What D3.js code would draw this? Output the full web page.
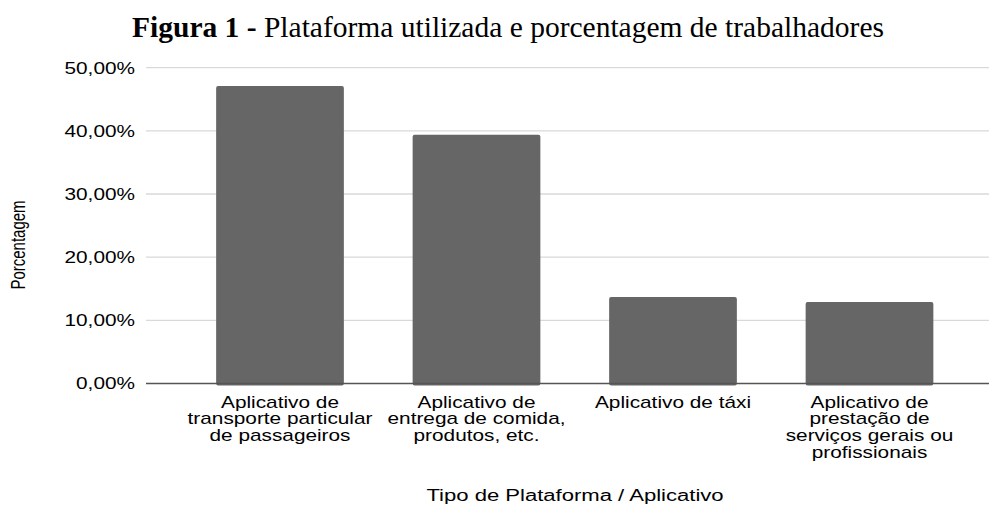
<!DOCTYPE html>
<html>
<head>
<meta charset="utf-8">
<script src="https://cdn.jsdelivr.net/npm/d3@7"></script>
<style>
  body { margin: 0; background: #fff; }
  svg { display: block; }
</style>
</head>
<body>
<svg id="chart" width="990" height="505"></svg>
<script>
var categories = [
    ["Aplicativo de", "transporte particular", "de passageiros"],
    ["Aplicativo de", "entrega de comida,", "produtos, etc."],
    ["Aplicativo de táxi"],
    ["Aplicativo de", "prestação de", "serviços gerais ou", "profissionais"]
];
var values = [47.1, 39.4, 13.7, 12.9];
var yTicks = [0, 10, 20, 30, 40, 50];

var svg = d3.select("#chart");
var sx = 1.3; // text in the picture is stretched wide

var x = d3.scaleBand()
    .domain(d3.range(categories.length))
    .range([181.75, 967.75])
    .paddingInner(0.35)
    .paddingOuter(0.175);

var y = d3.scaleLinear().domain([0, 50]).range([383.5, 67.7]);

function wideText(g, tx, ty, anchor, s) {
    return g.append("text")
        .attr("transform", "translate(" + tx + "," + ty + ") scale(" + (s || sx) + ",1)")
        .attr("text-anchor", anchor)
        .style("font-family", "'Liberation Sans', Arial, sans-serif")
        .style("font-size", "16px")
        .style("fill", "#000");
}

// grid lines
svg.append("g")
    .selectAll("line.grid")
    .data(yTicks.filter(function (d) { return d > 0; }))
    .enter()
    .append("line")
    .attr("x1", 146).attr("x2", 989)
    .attr("y1", function (d) { return y(d); })
    .attr("y2", function (d) { return y(d); })
    .attr("stroke", "#d9d9d9")
    .attr("stroke-width", 1.3);

// y tick labels
var tickG = svg.append("g");
yTicks.forEach(function (t) {
    wideText(tickG, 135, y(t) + 5.8, "end")
        .text(d3.format(".2f")(t).replace(".", ",") + "%");
});

// bars
svg.append("g")
    .selectAll("rect")
    .data(values)
    .enter()
    .append("rect")
    .attr("x", function (d, i) { return x(i); })
    .attr("width", x.bandwidth())
    .attr("y", function (d) { return y(d); })
    .attr("height", function (d) { return y(0) - y(d) + 2; })
    .attr("rx", 2)
    .attr("fill", "#666666");

// baseline
svg.append("line")
    .attr("x1", 146).attr("x2", 989)
    .attr("y1", y(0)).attr("y2", y(0))
    .attr("stroke", "#555")
    .attr("stroke-width", 1.5);

// category labels
var catG = svg.append("g");
categories.forEach(function (lines, i) {
    var cx = x(i) + x.bandwidth() / 2;
    lines.forEach(function (line, j) {
        wideText(catG, cx, 407.5 + j * 16.7, "middle").text(line);
    });
});

// axis titles
wideText(svg, 575, 500.5, "middle", 1.38).text("Tipo de Plataforma / Aplicativo");

svg.append("text")
    .attr("transform", "translate(25,245) scale(1.35,1) rotate(-90)")
    .attr("text-anchor", "middle")
    .style("font-family", "'Liberation Sans', Arial, sans-serif")
    .style("font-size", "15px")
    .text("Porcentagem");

// title
var title = svg.append("text")
    .attr("x", 508).attr("y", 36.5)
    .attr("text-anchor", "middle")
    .style("font-family", "'Liberation Serif', 'Times New Roman', serif")
    .style("font-size", "29.5px");
title.append("tspan").style("font-weight", "bold").text("Figura 1 - ");
title.append("tspan").text("Plataforma utilizada e porcentagem de trabalhadores");
</script>
</body>
</html>
